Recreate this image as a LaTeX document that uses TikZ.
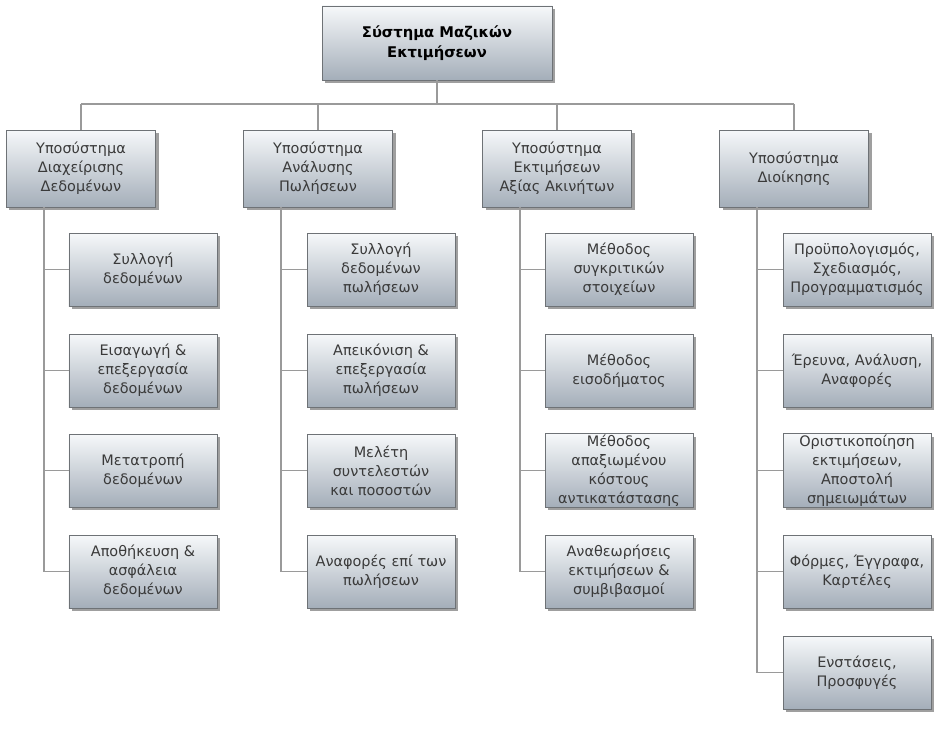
\documentclass[tikz,border=0pt]{standalone}
\usepackage{fontspec}
\setmainfont{DejaVu Sans}
\usepackage{tikz}
\usetikzlibrary{positioning, calc, shadows}
\definecolor{BoxTop}{HTML}{F6F8FA}
\definecolor{BoxBottom}{HTML}{A4AEB9}
\definecolor{BoxLine}{HTML}{6E7276}
\definecolor{WireGray}{HTML}{9A9A9A}
\definecolor{TextGray}{HTML}{3A3A3A}

\tikzset{
  box/.style={draw=BoxLine, line width=0.8bp, top color=BoxTop, bottom color=BoxBottom,
    align=center, text=TextGray, font=\fontsize{14.5}{19}\selectfont, inner sep=1bp,
    drop shadow={shadow xshift=3bp, shadow yshift=-3bp, fill=black!75, opacity=.5}},
  rootbox/.style={box, minimum width=230bp, minimum height=74bp, text=black,
    font=\bfseries\fontsize{14.8}{20}\selectfont},
  subbox/.style={box, minimum width=149bp, minimum height=77bp},
  leafbox/.style={box, minimum width=148bp, minimum height=73bp},
  wire/.style={draw=WireGray, line width=1.3bp}
}

\begin{document}
\begin{tikzpicture}[x=1bp, y=-1bp]
        \useasboundingbox [fill=white] (0,0) rectangle (944,742);

        % Root
        \node [rootbox] (root) at (437,43) {Σύστημα Μαζικών\\Εκτιμήσεων};

        % Subsystems
        \node [subbox] (sub1) at (81,168.5)  {Υποσύστημα\\Διαχείρισης\\Δεδομένων};
        \node [subbox] (sub2) at (318,168.5) {Υποσύστημα\\Ανάλυσης\\Πωλήσεων};
        \node [subbox] (sub3) at (557,168.5) {Υποσύστημα\\Εκτιμήσεων\\Αξίας Ακινήτων};
        \node [subbox] (sub4) at (794,168.5) {Υποσύστημα\\Διοίκησης};

        % Data management
        \node [leafbox] (l11) at (143,269.5) {Συλλογή\\δεδομένων};
        \node [leafbox] (l12) at (143,370.5) {Εισαγωγή \&\\επεξεργασία\\δεδομένων};
        \node [leafbox] (l13) at (143,470.5) {Μετατροπή\\δεδομένων};
        \node [leafbox] (l14) at (143,571.5) {Αποθήκευση \&\\ασφάλεια\\δεδομένων};

        % Sales analysis
        \node [leafbox] (l21) at (381,269.5) {Συλλογή\\δεδομένων\\πωλήσεων};
        \node [leafbox] (l22) at (381,370.5) {Απεικόνιση \&\\επεξεργασία\\πωλήσεων};
        \node [leafbox] (l23) at (381,470.5) {Μελέτη\\συντελεστών\\και ποσοστών};
        \node [leafbox] (l24) at (381,571.5) {Αναφορές επί των\\πωλήσεων};

        % Valuation
        \node [leafbox] (l31) at (619,269.5) {Μέθοδος\\συγκριτικών\\στοιχείων};
        \node [leafbox] (l32) at (619,370.5) {Μέθοδος\\εισοδήματος};
        \node [leafbox] (l33) at (619,470.5) {Μέθοδος\\απαξιωμένου\\κόστους\\αντικατάστασης};
        \node [leafbox] (l34) at (619,571.5) {Αναθεωρήσεις\\εκτιμήσεων \&\\συμβιβασμοί};

        % Administration
        \node [leafbox] (l41) at (857,269.5) {Προϋπολογισμός,\\Σχεδιασμός,\\Προγραμματισμός};
        \node [leafbox] (l42) at (857,370.5) {Έρευνα, Ανάλυση,\\Αναφορές};
        \node [leafbox] (l43) at (857,470.5) {Οριστικοποίηση\\εκτιμήσεων,\\Αποστολή\\σημειωμάτων};
        \node [leafbox] (l44) at (857,571.5) {Φόρμες, Έγγραφα,\\Καρτέλες};
        \node [leafbox] (l45) at (857,672.5) {Ενστάσεις,\\Προσφυγές};

        % Bus under the root
        \coordinate (bus) at (437,104);
        \draw [wire] (root.south) -- (bus);
        \draw [wire] (sub1.north |- bus) -- (sub4.north |- bus);
        \foreach \s in {1,...,4}
            \draw [wire] (sub\s.north) -- (sub\s.north |- bus);

        % Trunks and branches
        \foreach \s/\last in {1/4, 2/4, 3/4, 4/5} {
            \coordinate (tr\s) at ([xshift=38bp]sub\s.south west);
            \draw [wire] (tr\s) |- (l\s\last.west);
            \foreach \k in {1,...,\last}
                \draw [wire] (l\s\k.west) -- (l\s\k.west -| tr\s);
        }
    \end{tikzpicture}
\end{document}
